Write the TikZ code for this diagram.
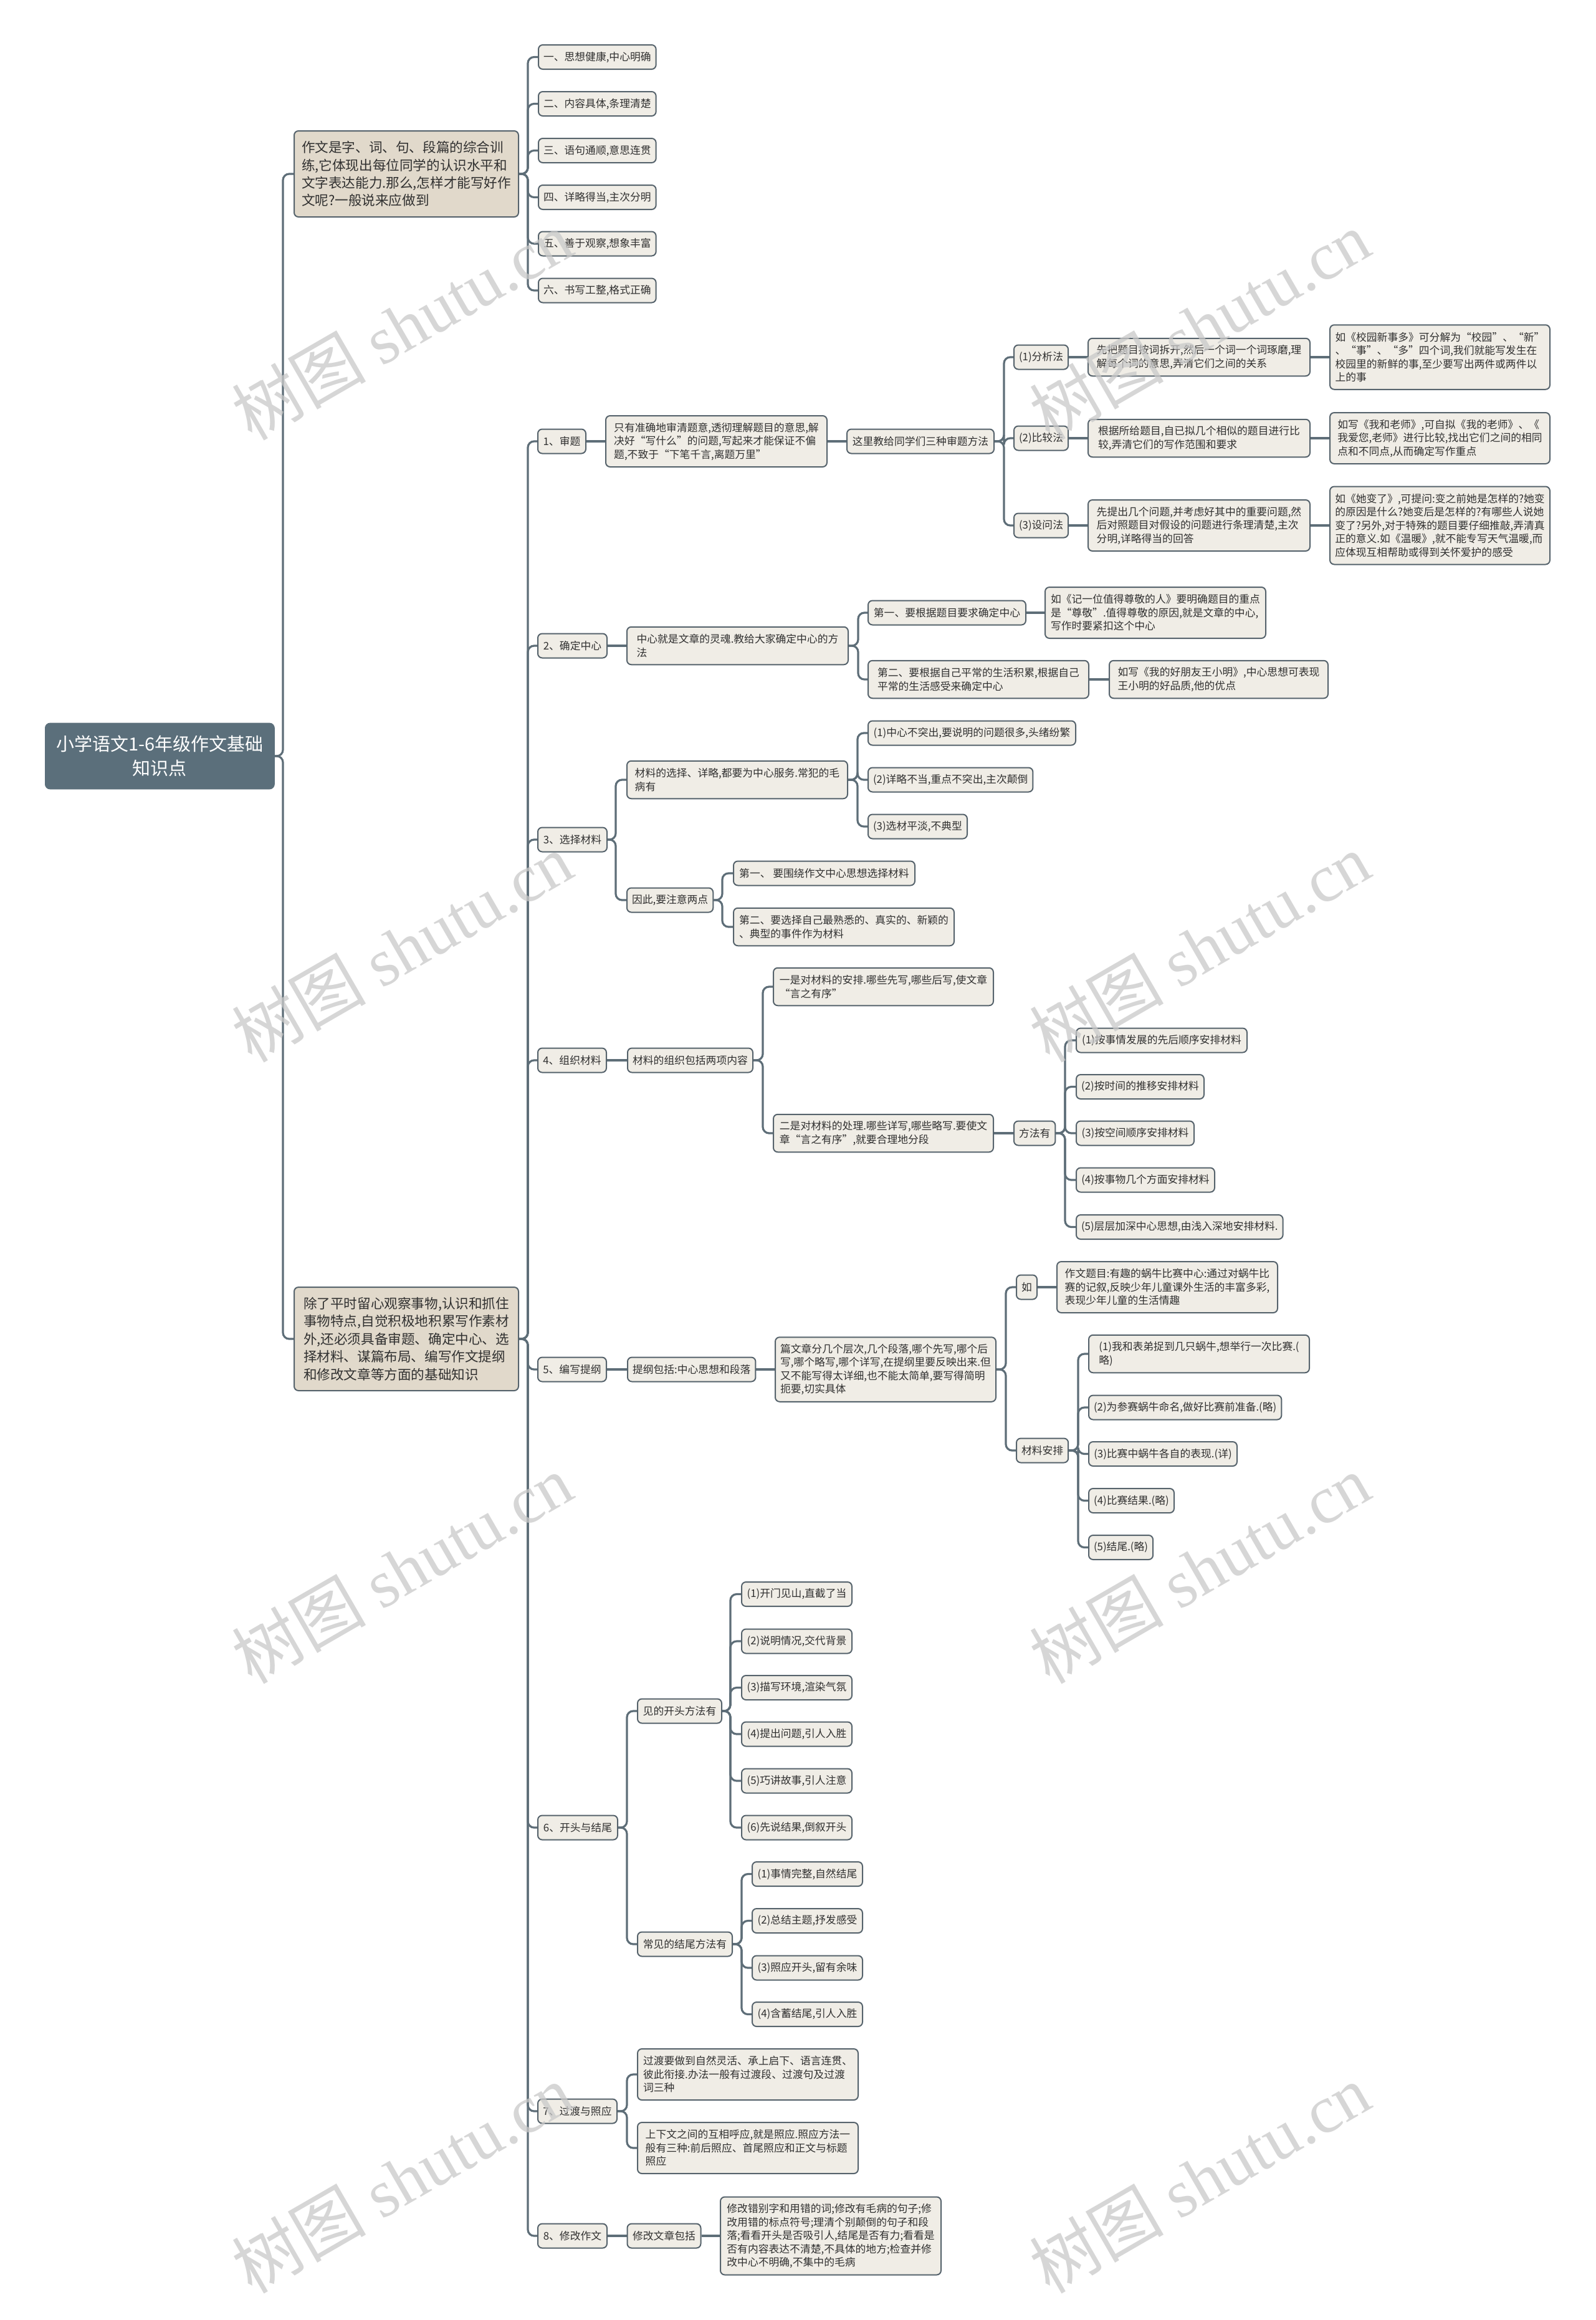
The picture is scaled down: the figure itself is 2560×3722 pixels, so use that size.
\documentclass[tikz,border=0pt]{standalone}
\usepackage{fontspec}
\setmainfont{Noto Sans CJK SC}
\newfontfamily\wmserif{Liberation Serif}
\usetikzlibrary{backgrounds}
\definecolor{linec}{HTML}{5E6E78}
\definecolor{bordc}{HTML}{56636C}
\definecolor{leaff}{HTML}{F0EDE6}
\definecolor{branchf}{HTML}{E1D9CB}
\definecolor{rootf}{HTML}{5B6F7B}
\definecolor{txt}{HTML}{303030}
\definecolor{wmc}{HTML}{C9C9C9}
\newcommand\lk[3]{\draw[conn] (#1.east) -- (#1.east -| #2) |- (#3.west);}
\newcommand\st[2]{\draw[conn] (#1.east) -- (#2.west);}
\begin{document}
\begin{tikzpicture}[x=0.5pt,y=-0.5pt,
 base/.style={draw=bordc, line width=1pt, rounded corners=3.5pt, anchor=west, align=left, text=txt},
 leaf/.style={base, fill=leaff, font=\fontsize{8.4pt}{10.75pt}\selectfont, inner xsep=4pt, inner ysep=1pt, minimum height=19.5pt},
 branch/.style={base, fill=branchf, font=\fontsize{10.8pt}{14.2pt}\selectfont, inner xsep=6pt, inner ysep=1pt},
 rootbox/.style={draw=rootf, fill=rootf, rounded corners=4pt, anchor=west, align=center, text=white, font=\fontsize{14.5pt}{19.5pt}\selectfont, minimum width=184pt, minimum height=53pt},
 w/.style={minimum width=#1*0.5pt},
 l2/.style={minimum height=30.25pt},
 l3/.style={minimum height=41pt},
 l4/.style={minimum height=51.75pt},
 l5/.style={minimum height=62.5pt},
 conn/.style={draw=linec, line width=1.6pt, rounded corners=5pt},
 wm/.style={rotate=30, text=wmc, opacity=0.75, font=\fontsize{54pt}{54pt}\selectfont}]
\useasboundingbox (0,0) rectangle (2560,3722);
\begin{pgfonlayer}{background}
\fill[white] (0,0) rectangle (2560,3722);
\end{pgfonlayer}

% vertical connector lines
\coordinate (vR) at (454,0);
\coordinate (vT) at (847,0);
\coordinate (v1) at (1611,0);
\coordinate (v2) at (1377,0);
\coordinate (v3) at (988,0);
\coordinate (v3a) at (1376,0);
\coordinate (v3b) at (1159,0);
\coordinate (v4) at (1224,0);
\coordinate (v4m) at (1709,0);
\coordinate (v5) at (1614,0);
\coordinate (v5m) at (1730,0);
\coordinate (v6) at (1006,0);
\coordinate (v6a) at (1172,0);
\coordinate (v6b) at (1190,0);
\coordinate (v7) at (1006,0);

% root and main branches
\node[rootbox] (root) at (72,1213) {小学语文1-6年级作文基础\\知识点};
\node[branch, w=359, minimum height=69pt] (b1) at (471,279) {作文是字、词、句、段篇的综合训\\练,它体现出每位同学的认识水平和\\文字表达能力.那么,怎样才能写好作\\文呢?一般说来应做到};
\node[branch, w=360, minimum height=83pt] (b2) at (471,2148) {除了平时留心观察事物,认识和抓住\\事物特点,自觉积极地积累写作素材\\外,还必须具备审题、确定中心、选\\择材料、谋篇布局、编写作文提纲\\和修改文章等方面的基础知识};

% branch 1 children
\node[leaf, w=188] (c1) at (863,91.5) {一、思想健康,中心明确};
\node[leaf, w=188] (c2) at (863,166.5) {二、内容具体,条理清楚};
\node[leaf, w=188] (c3) at (863,241.5) {三、语句通顺,意思连贯};
\node[leaf, w=188] (c4) at (863,316.5) {四、详略得当,主次分明};
\node[leaf, w=188] (c5) at (863,391) {五、善于观察,想象丰富};
\node[leaf, w=188] (c6) at (863,466) {六、书写工整,格式正确};

% branch 2 children
\node[leaf, w=77] (s1) at (862,708) {1、审题};
\node[leaf, w=111] (s2) at (862,1036) {2、确定中心};
\node[leaf, w=111] (s3) at (862,1347) {3、选择材料};
\node[leaf, w=110] (s4) at (862,1701) {4、组织材料};
\node[leaf, w=110] (s5) at (862,2197) {5、编写提纲};
\node[leaf, w=128] (s6) at (862,2932) {6、开头与结尾};
\node[leaf, w=127] (s7) at (862,3387) {7、过渡与照应};
\node[leaf, w=111] (s8) at (862,3587) {8、修改作文};

% 1 审题
\node[leaf, w=355, l3] (a1) at (971,708) {只有准确地审清题意,透彻理解题目的意思,解\\决好“写什么”的问题,写起来才能保证不偏\\题,不致于“下笔千言,离题万里”};
\node[leaf, w=236] (a2) at (1358,708) {这里教给同学们三种审题方法};
\node[leaf, w=87] (a3) at (1626,573) {(1)分析法};
\node[leaf, w=87] (a4) at (1626,703) {(2)比较法};
\node[leaf, w=87] (a5) at (1626,843) {(3)设问法};
\node[leaf, w=356, l2] (a3a) at (1745,573) {先把题目按词拆开,然后一个词一个词琢磨,理\\解每个词的意思,弄清它们之间的关系};
\node[leaf, w=353, l4] (a3b) at (2133,573) {如《校园新事多》可分解为“校园”、“新”\\、“事”、“多”四个词,我们就能写发生在\\校园里的新鲜的事,至少要写出两件或两件以\\上的事};
\node[leaf, w=356, l2] (a4a) at (1745,703) {根据所给题目,自已拟几个相似的题目进行比\\较,弄清它们的写作范围和要求};
\node[leaf, w=353, l3] (a4b) at (2133,703) {如写《我和老师》,可自拟《我的老师》、《\\我爱您,老师》进行比较,找出它们之间的相同\\点和不同点,从而确定写作重点};
\node[leaf, w=356, l3] (a5a) at (1745,843) {先提出几个问题,并考虑好其中的重要问题,然\\后对照题目对假设的问题进行条理清楚,主次\\分明,详略得当的回答};
\node[leaf, w=353, l5] (a5b) at (2133,843) {如《她变了》,可提问:变之前她是怎样的?她变\\的原因是什么?她变后是怎样的?有哪些人说她\\变了?另外,对于特殊的题目要仔细推敲,弄清真\\正的意义.如《温暖》,就不能专写天气温暖,而\\应体现互相帮助或得到关怀爱护的感受};

% 2 确定中心
\node[leaf, w=355, l2] (d1) at (1005,1036) {中心就是文章的灵魂.教给大家确定中心的方\\法};
\node[leaf, w=253] (d2) at (1392,983) {第一、要根据题目要求确定中心};
\node[leaf, w=354, l2] (d3) at (1392,1090) {第二、要根据自己平常的生活积累,根据自己\\平常的生活感受来确定中心};
\node[leaf, w=354, l3] (d2a) at (1676,983) {如《记一位值得尊敬的人》要明确题目的重点\\是“尊敬”.值得尊敬的原因,就是文章的中心,\\写作时要紧扣这个中心};
\node[leaf, w=351, l2] (d3a) at (1779,1090) {如写《我的好朋友王小明》,中心思想可表现\\王小明的好品质,他的优点};

% 3 选择材料
\node[leaf, w=354, l2] (m1) at (1005,1251) {材料的选择、详略,都要为中心服务.常犯的毛\\病有};
\node[leaf, w=333] (m1a) at (1392,1176) {(1)中心不突出,要说明的问题很多,头绪纷繁};
\node[leaf, w=264] (m1b) at (1392,1251) {(2)详略不当,重点不突出,主次颠倒};
\node[leaf, w=159] (m1c) at (1392,1326) {(3)选材平淡,不典型};
\node[leaf, w=138] (m2) at (1005,1444) {因此,要注意两点};
\node[leaf, w=291] (m2a) at (1176,1401) {第一、 要围绕作文中心思想选择材料};
\node[leaf, w=354, l2] (m2b) at (1176,1487) {第二、要选择自己最熟悉的、真实的、新颖的\\、典型的事件作为材料};

% 4 组织材料
\node[leaf, w=201] (o1) at (1006,1701) {材料的组织包括两项内容};
\node[leaf, w=353, l2] (o1a) at (1240,1583) {一是对材料的安排.哪些先写,哪些后写,使文章\\“言之有序”};
\node[leaf, w=353, l2] (o1b) at (1240,1818) {二是对材料的处理.哪些详写,哪些略写.要使文\\章“言之有序”,就要合理地分段};
\node[leaf, w=66] (om) at (1626,1818) {方法有};
\node[leaf, w=274] (om1) at (1726,1669) {(1)按事情发展的先后顺序安排材料};
\node[leaf, w=205] (om2) at (1726,1743.5) {(2)按时间的推移安排材料};
\node[leaf, w=189] (om3) at (1726,1818) {(3)按空间顺序安排材料};
\node[leaf, w=222] (om4) at (1726,1893) {(4)按事物几个方面安排材料};
\node[leaf, w=331] (om5) at (1726,1968.5) {(5)层层加深中心思想,由浅入深地安排材料.};

% 5 编写提纲
\node[leaf, w=205] (e1) at (1006,2197) {提纲包括:中心思想和段落};
\node[leaf, w=354, l4] (e2) at (1243,2197) {篇文章分几个层次,几个段落,哪个先写,哪个后\\写,哪个略写,哪个详写,在提纲里要反映出来.但\\又不能写得太详细,也不能太简单,要写得简明\\扼要,切实具体};
\node[leaf, w=33] (er) at (1630,2065) {如};
\node[leaf, w=354, l3] (era) at (1695,2065) {作文题目:有趣的蜗牛比赛中心:通过对蜗牛比\\赛的记叙,反映少年儿童课外生活的丰富多彩,\\表现少年儿童的生活情趣};
\node[leaf, w=83] (em) at (1630,2327) {材料安排};
\node[leaf, w=354, l2] (em1) at (1746,2172) {(1)我和表弟捉到几只蜗牛,想举行一次比赛.(\\略)};
\node[leaf, w=309] (em2) at (1746,2258) {(2)为参赛蜗牛命名,做好比赛前准备.(略)};
\node[leaf, w=238] (em3) at (1746,2332.5) {(3)比赛中蜗牛各自的表现.(详)};
\node[leaf, w=137] (em4) at (1746,2407.5) {(4)比赛结果.(略)};
\node[leaf, w=102] (em5) at (1746,2482.5) {(5)结尾.(略)};

% 6 开头与结尾
\node[leaf, w=135] (f1) at (1022,2745) {见的开头方法有};
\node[leaf, w=177] (f11) at (1189,2557.5) {(1)开门见山,直截了当};
\node[leaf, w=177] (f12) at (1189,2633) {(2)说明情况,交代背景};
\node[leaf, w=177] (f13) at (1189,2707.5) {(3)描写环境,渲染气氛};
\node[leaf, w=177] (f14) at (1189,2782) {(4)提出问题,引人入胜};
\node[leaf, w=177] (f15) at (1189,2857) {(5)巧讲故事,引人注意};
\node[leaf, w=177] (f16) at (1189,2932) {(6)先说结果,倒叙开头};
\node[leaf, w=152] (f2) at (1022,3119) {常见的结尾方法有};
\node[leaf, w=177] (f21) at (1206,3006.5) {(1)事情完整,自然结尾};
\node[leaf, w=177] (f22) at (1206,3081.5) {(2)总结主题,抒发感受};
\node[leaf, w=177] (f23) at (1206,3157) {(3)照应开头,留有余味};
\node[leaf, w=177] (f24) at (1206,3231.5) {(4)含蓄结尾,引人入胜};

% 7 过渡与照应
\node[leaf, w=354, l3] (g1) at (1022,3328) {过渡要做到自然灵活、承上启下、语言连贯、\\彼此衔接.办法一般有过渡段、过渡句及过渡\\词三种};
\node[leaf, w=354, l3] (g2) at (1022,3446) {上下文之间的互相呼应,就是照应.照应方法一\\般有三种:前后照应、首尾照应和正文与标题\\照应};

% 8 修改作文
\node[leaf, w=118] (h1) at (1005.5,3587) {修改文章包括};
\node[leaf, w=354, l5] (h2) at (1155,3587) {修改错别字和用错的词;修改有毛病的句子;修\\改用错的标点符号;理清个别颠倒的句子和段\\落;看看开头是否吸引人,结尾是否有力;看看是\\否有内容表达不清楚,不具体的地方;检查并修\\改中心不明确,不集中的毛病};

\begin{pgfonlayer}{background}
\lk{root}{vR}{b1} \lk{root}{vR}{b2}
\foreach \c in {c1,c2,c3,c4,c5,c6} {\lk{b1}{vT}{\c}}
\foreach \c in {s1,s2,s3,s4,s5,s6,s7,s8} {\lk{b2}{vT}{\c}}
\st{s1}{a1} \st{a1}{a2}
\lk{a2}{v1}{a3} \lk{a2}{v1}{a4} \lk{a2}{v1}{a5}
\st{a3}{a3a} \st{a3a}{a3b} \st{a4}{a4a} \st{a4a}{a4b} \st{a5}{a5a} \st{a5a}{a5b}
\st{s2}{d1} \lk{d1}{v2}{d2} \lk{d1}{v2}{d3} \st{d2}{d2a} \st{d3}{d3a}
\lk{s3}{v3}{m1} \lk{s3}{v3}{m2}
\lk{m1}{v3a}{m1a} \lk{m1}{v3a}{m1b} \lk{m1}{v3a}{m1c}
\lk{m2}{v3b}{m2a} \lk{m2}{v3b}{m2b}
\st{s4}{o1} \lk{o1}{v4}{o1a} \lk{o1}{v4}{o1b} \st{o1b}{om}
\foreach \c in {om1,om2,om3,om4,om5} {\lk{om}{v4m}{\c}}
\st{s5}{e1} \st{e1}{e2} \lk{e2}{v5}{er} \lk{e2}{v5}{em} \st{er}{era}
\foreach \c in {em1,em2,em3,em4,em5} {\lk{em}{v5m}{\c}}
\lk{s6}{v6}{f1} \lk{s6}{v6}{f2}
\foreach \c in {f11,f12,f13,f14,f15,f16} {\lk{f1}{v6a}{\c}}
\foreach \c in {f21,f22,f23,f24} {\lk{f2}{v6b}{\c}}
\lk{s7}{v7}{g1} \lk{s7}{v7}{g2}
\st{s8}{h1} \st{h1}{h2}
\end{pgfonlayer}

% watermarks
\foreach \wx/\wy [count=\i] in {645/522,1925/522,645/1520,1925/1520,645/2517,1925/2517,645/3495,1925/3495} {
 \node[wm] (wm\i) at (\wx,\wy) {树图 {\wmserif shutu.cn}};
}
\end{tikzpicture}
\end{document}
